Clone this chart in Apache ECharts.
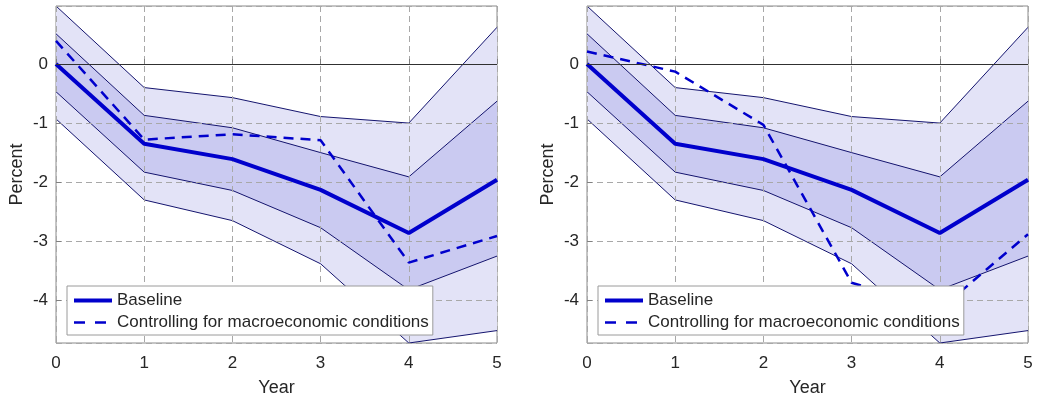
<!DOCTYPE html>
<html>
<head>
<meta charset="utf-8">
<script src="https://cdn.jsdelivr.net/npm/echarts@6/dist/echarts.min.js"></script>
<style>
html,body{margin:0;padding:0;background:#fff;}
#chart{width:1038px;height:406px;}
</style>
</head>
<body>
<div id="chart"></div>
<script>
// years on the x axis
var years=['0','1','2','3','4','5'];
// confidence bands (same in both panels)
var outerUpper=[0.98,-0.40,-0.57,-0.89,-1.00,0.62];
var innerUpper=[0.51,-0.87,-1.08,-1.50,-1.91,-0.63];
var baseline=[0,-1.35,-1.61,-2.13,-2.86,-1.96];
var innerLower=[-0.47,-1.83,-2.14,-2.77,-3.82,-3.25];
var outerLower=[-0.93,-2.30,-2.65,-3.38,-4.72,-4.51];
// dashed line, left and right panel
var ctrlLeft=[0.39,-1.28,-1.19,-1.29,-3.36,-2.91];
var ctrlRight=[0.21,-0.13,-1.03,-3.70,-4.15,-2.88];

var yMin=-4.72, yMax=0.98;

var navy='#14146e';
var blue='#0000cc';
var fontFam='"Liberation Sans", Arial, sans-serif';

function diff(hi,lo){
	var out=[];
	for(var i=0;i<hi.length;i++){ out.push(+(hi[i]-lo[i]).toFixed(3)); }
	return out;
}

/*
* band = invisible lower line + stacked difference with area
*/
function bandSeries(idx,lo,hi,color,stackName){
	return [
		{
			type:'line',xAxisIndex:idx,yAxisIndex:idx,
			data:lo,stack:stackName,stackStrategy:'all',
			symbol:'none',silent:true,z:2,
			lineStyle:{color:navy,width:1}
		},
		{
			type:'line',xAxisIndex:idx,yAxisIndex:idx,
			data:diff(hi,lo),stack:stackName,stackStrategy:'all',
			symbol:'none',silent:true,z:2,
			lineStyle:{color:navy,width:1},
			areaStyle:{color:color,opacity:1}
		}
	];
}

function panelSeries(idx,ctrl){
	var s=[];
	s=s.concat(bandSeries(idx,outerLower,outerUpper,'#e3e3f7','outer'+idx));
	s=s.concat(bandSeries(idx,innerLower,innerUpper,'#cacaf1','inner'+idx));
	s.push({
		name:'Baseline',type:'line',xAxisIndex:idx,yAxisIndex:idx,
		data:baseline,symbol:'none',z:4,
		lineStyle:{color:blue,width:4},itemStyle:{color:blue},
		markLine:{
			silent:true,symbol:'none',label:{show:false},
			lineStyle:{color:'#303030',width:1,type:'solid'},
			data:[{yAxis:0}]
		}
	});
	s.push({
		name:'Controlling for macroeconomic conditions',type:'line',
		xAxisIndex:idx,yAxisIndex:idx,
		data:ctrl,symbol:'none',z:4,
		lineStyle:{color:blue,width:2.5,type:[10,7]},itemStyle:{color:blue}
	});
	return s;
}

function xAxisCfg(idx){
	return {
		type:'category',gridIndex:idx,data:years,boundaryGap:false,z:3,
		name:'Year',nameLocation:'middle',nameGap:36,
		nameTextStyle:{fontSize:18,color:'#262626',fontFamily:fontFam},
		axisLine:{show:false},
		axisTick:{show:true,inside:true,length:5,lineStyle:{color:'#808080'}},
		axisLabel:{fontSize:17,color:'#262626',fontFamily:fontFam,margin:12},
		splitLine:{show:true,lineStyle:{color:'#a8a8a8',type:[6,4],width:1}}
	};
}
function yAxisCfg(idx){
	return {
		type:'value',gridIndex:idx,min:yMin,max:yMax,splitNumber:6,z:3,
		name:'Percent',nameLocation:'middle',nameGap:30,
		nameTextStyle:{fontSize:18,color:'#262626',fontFamily:fontFam},
		axisLine:{show:false},
		axisTick:{show:true,inside:true,length:5,lineStyle:{color:'#808080'}},
		axisLabel:{
			fontSize:17,color:'#262626',fontFamily:fontFam,margin:8,
			showMinLabel:false,showMaxLabel:false
		},
		splitLine:{show:true,lineStyle:{color:'#a8a8a8',type:[6,4],width:1}}
	};
}

function legendCfg(left){
	return {
		left:left,top:286,orient:'vertical',z:6,
		data:[
			{name:'Baseline',lineStyle:{width:4}},
			{name:'Controlling for macroeconomic conditions',lineStyle:{width:2.5,type:[11,10]}}
		],
		backgroundColor:'#fff',borderColor:'#9a9a9a',borderWidth:1,borderRadius:0,
		padding:[6,4,4,5],itemGap:5,itemWidth:38,itemHeight:16,
		itemStyle:{opacity:0},
		textStyle:{fontSize:17,color:'#262626',fontFamily:fontFam},
		selectedMode:false
	};
}

var myChart=echarts.init(document.getElementById('chart'));
var option={
	backgroundColor:'#fff',
	animation:false,
	grid:[
		{left:56,top:6,width:441,height:337,show:true,borderColor:'#8a8a8a',borderWidth:1,backgroundColor:'transparent'},
		{left:587,top:6,width:441,height:337,show:true,borderColor:'#8a8a8a',borderWidth:1,backgroundColor:'transparent'}
	],
	xAxis:[xAxisCfg(0),xAxisCfg(1)],
	yAxis:[yAxisCfg(0),yAxisCfg(1)],
	legend:[legendCfg(67),legendCfg(598)],
	series:panelSeries(0,ctrlLeft).concat(panelSeries(1,ctrlRight))
};
myChart.setOption(option);
</script>
</body>
</html>
